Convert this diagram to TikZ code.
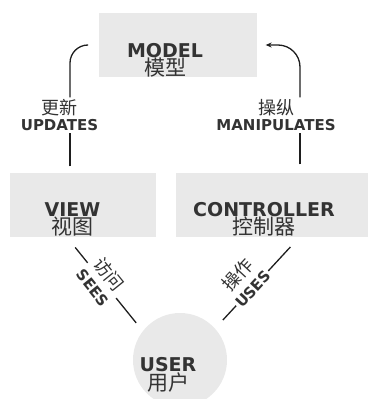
\documentclass[tikz,border=0pt]{standalone}
\usepackage{fontspec}
\setmainfont{DejaVu Sans}
\newfontfamily\cjk{Noto Sans CJK SC}
\usetikzlibrary{arrows.meta, positioning}
\definecolor{cbox}{HTML}{E9E9E9}
\definecolor{ctext}{HTML}{333333}
\definecolor{cline}{HTML}{1E1E1E}
\newcommand{\entxt}[1]{{\bfseries #1}}
\newcommand{\zhbox}[1]{{\cjk\fontsize{21}{18}\selectfont #1}}
\newcommand{\zhlbl}[1]{{\cjk\fontsize{18}{15.5}\selectfont #1}}
\tikzset{
  every picture/.style={line width=1.3pt},
  box/.style={fill=cbox, draw=none, inner sep=0pt},
  boxtxt/.style={text=ctext, align=center, inner sep=0pt, font=\fontsize{19}{18}\selectfont},
  elabel/.style={fill=white, text=ctext, align=center, inner sep=1.5pt, font=\fontsize{15}{15.5}\selectfont},
  link/.style={draw=cline, line width=1.3pt},
  arrow/.style={link, -{Stealth[length=6pt, width=5pt]}},
}

\begin{document}
\begin{tikzpicture}[x=1pt, y=-1pt]
  \useasboundingbox (0,0) rectangle (367,399);
  % ---- the four parts ----
  \node[box, minimum width=158pt, minimum height=64pt] (model) at (178,45) {};
  \node[box, minimum width=146pt, minimum height=64pt] (view) at (83,205) {};
  \node[box, minimum width=194pt, minimum height=64pt] (ctrl) at (273,205) {};
  \node[box, circle, minimum size=94pt] (user) at (180,360) {};
  \node[boxtxt] (modeltxt) at (165,60) {\entxt{MODEL}\\\zhbox{模型}};
  \node[boxtxt] (viewtxt) at (72.5,219.5) {\entxt{VIEW}\\\zhbox{视图}};
  \node[boxtxt] (ctrltxt) at (264,219.5) {\entxt{CONTROLLER}\\\zhbox{控制器}};
  \node[boxtxt] (usertxt) at (168,375) {\entxt{USER}\\\zhbox{用户}};
  % ---- upward links to the model ----
  \node[elabel] (upd) at (59.5,115) {\zhlbl{更新}\\\entxt{UPDATES}};
  \draw[link, shorten <=6pt] ([xshift=-13pt]view.north) -- ([xshift=10.5pt]upd.south);
  \draw[link, rounded corners=18pt, shorten >=11pt] ([xshift=10.5pt]upd.north) |- (model.west);
  \node[elabel] (man) at (276,115) {\zhlbl{操纵}\\\entxt{MANIPULATES}};
  \draw[link, shorten <=8pt] ([xshift=27pt]ctrl.north) -- ([xshift=24pt]man.south);
  \draw[arrow, rounded corners=22pt, shorten >=8pt] ([xshift=24pt]man.north) |- (model.east);
  % ---- user links ----
  \draw[link, shorten <=12.6pt, shorten >=10pt] ([xshift=-15.7pt]view.south)
    -- node[elabel, sloped, pos=0.46] (sees) {\zhlbl{访问}\\[4pt]\entxt{SEES}} (user.142);
  \draw[link, shorten <=12.7pt, shorten >=11pt] ([xshift=26pt]ctrl.south)
    -- node[elabel, sloped, pos=0.56, above=-9pt] (uses) {\zhlbl{操作}\\[4pt]\entxt{USES}} (user.42);
\end{tikzpicture}
\end{document}
